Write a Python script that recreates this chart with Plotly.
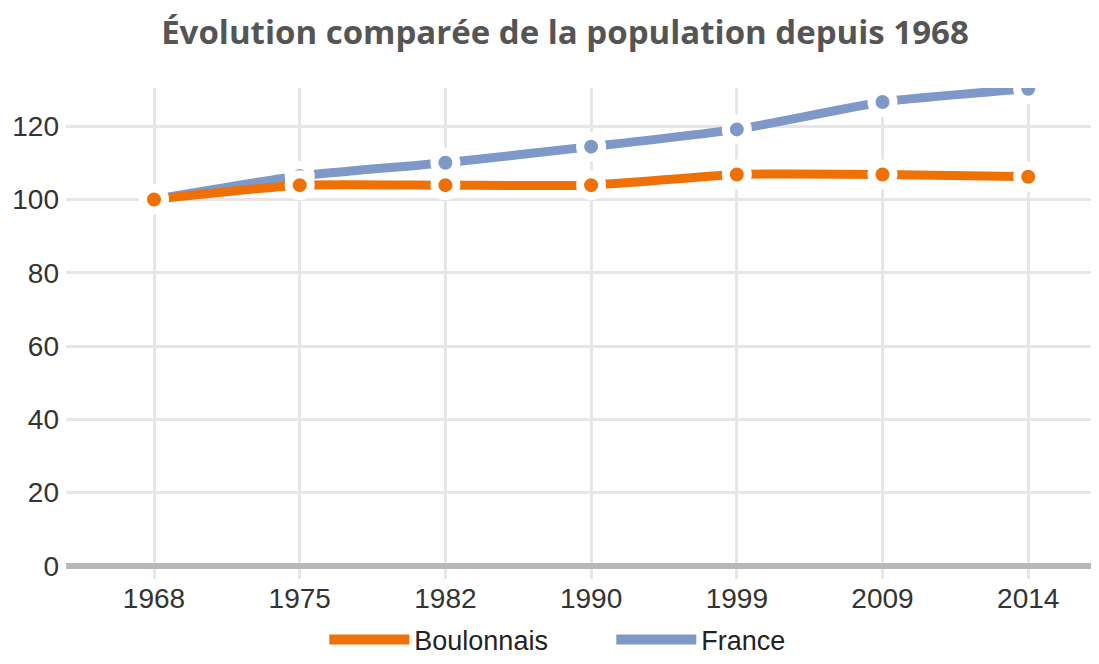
import plotly.graph_objects as go

years = ["1968", "1975", "1982", "1990", "1999", "2009", "2014"]
boulonnais = [100, 103.9, 103.9, 103.9, 106.8, 106.8, 106.2]
france = [100, 106.4, 110.0, 114.4, 119.1, 126.6, 130.2]
y_ticks = [0, 20, 40, 60, 80, 100, 120]

ORANGE = "#EF7004"
BLUE = "#7E98C8"
FONT = "Liberation Sans, Arial, sans-serif"

fig = go.Figure()
# data traces (France under Boulonnais)
fig.add_trace(go.Scatter(
    x=years, y=france, name="France", mode="lines+markers", showlegend=False,
    line=dict(color=BLUE, width=9, shape="spline", smoothing=0.5),
    marker=dict(color=BLUE, size=22, line=dict(color="white", width=8)),
))
fig.add_trace(go.Scatter(
    x=years, y=boulonnais, name="Boulonnais", mode="lines+markers", showlegend=False,
    line=dict(color=ORANGE, width=9, shape="spline", smoothing=0.5),
    marker=dict(color=ORANGE, size=22, line=dict(color="white", width=8)),
))
# legend entries (line only)
fig.add_trace(go.Scatter(x=[None], y=[None], name="Boulonnais", mode="lines",
                         line=dict(color=ORANGE, width=13), legendrank=1))
fig.add_trace(go.Scatter(x=[None], y=[None], name="France", mode="lines",
                         line=dict(color=BLUE, width=13), legendrank=2))

fig.update_layout(
    template="none",
    width=1083, height=648,
    margin=dict(l=58, r=0, t=80, b=77, autoexpand=False),
    paper_bgcolor="white", plot_bgcolor="white",
    font=dict(family=FONT, size=28, color="#333333"),
    title=dict(text="<b>Évolution comparée de la population depuis 1968</b>",
               x=0.5143, xanchor="center", y=0.963, yanchor="middle",
               font=dict(family="Open Sans, sans-serif", size=33, color="#555555")),
    showlegend=True,
    legend=dict(orientation="h", x=0.252, xanchor="left", y=-0.124, yanchor="middle",
                font=dict(family=FONT, size=27, color="#222222"), itemwidth=80,
                entrywidth=192, entrywidthmode="pixels",
                bgcolor="rgba(0,0,0,0)", borderwidth=0),
    xaxis=dict(type="category", range=[-0.604, 6.431], showgrid=True,
               gridcolor="#e6e6e6", gridwidth=3, showline=False, zeroline=False,
               ticks="", ticklabelstandoff=0, automargin=False,
               tickfont=dict(family=FONT, size=28, color="#333333")),
    yaxis=dict(range=[-3.55, 130.4], tickvals=y_ticks, showgrid=True,
               gridcolor="#e6e6e6", gridwidth=3, zeroline=True,
               zerolinecolor="#b8b8b8", zerolinewidth=6, showline=False,
               ticks="", ticklabelstandoff=6, automargin=False,
               tickfont=dict(family=FONT, size=28, color="#333333")),
)

fig.write_html("out.html")
